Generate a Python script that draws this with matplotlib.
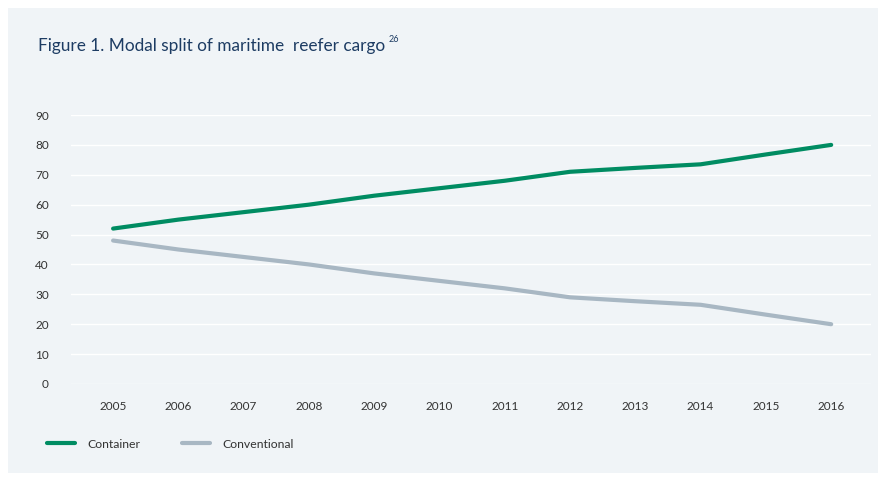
import matplotlib.pyplot as plt
from matplotlib.patches import Rectangle

years = [2005, 2006, 2007, 2008, 2009, 2010, 2011, 2012, 2013, 2014, 2015, 2016]
container = [52, 55, 57.5, 60, 63, 65.5, 68, 71, 72.3, 73.5, 76.8, 80]
conventional = [48, 45, 42.5, 40, 37, 34.5, 32, 29, 27.7, 26.5, 23.2, 20]
yticks = [0, 10, 20, 30, 40, 50, 60, 70, 80, 90]

green = "#008c62"
grey = "#a8b7c3"
panel = "#f0f4f7"
navy = "#1d3c63"
txt = "#333333"

plt.rcParams['font.family'] = ['Lato', 'DejaVu Sans']

W, H = 879, 482
fig = plt.figure(figsize=(W / 100, H / 100), dpi=100)
fig.patch.set_facecolor("white")
fig.patches.append(Rectangle((8 / W, 9 / H), 1 - 8 / W, 1 - 17 / H,
                             transform=fig.transFigure, facecolor=panel,
                             edgecolor="none", zorder=-10))

ax = fig.add_axes([71 / W, 1 - 384 / H, 800 / W, 269 / H])
ax.set_facecolor("none")
ax.plot(years, container, color=green, lw=3.0, solid_capstyle="round",
        solid_joinstyle="round", label="Container")
ax.plot(years, conventional, color=grey, lw=3.0, solid_capstyle="round",
        solid_joinstyle="round", label="Conventional")

ax.set_xlim(2005 - 0.645, 2016 + 0.61)
ax.set_ylim(0, 90)
ax.set_xticks(years)
ax.set_yticks(yticks)
ax.tick_params(length=0, labelsize=8.5, labelcolor=txt)
ax.tick_params(axis="y", pad=16)
ax.tick_params(axis="x", pad=12)
ax.grid(axis="y", color="white", lw=1.0)
ax.set_axisbelow(True)
for s in ax.spines.values():
    s.set_visible(False)

title = fig.text(38 / W, 1 - 46 / H, "Figure 1. Modal split of maritime  reefer cargo",
                 fontsize=12.4, color=navy, va="center", ha="left")
fig.canvas.draw()
ext = title.get_window_extent()
fig.text((ext.x1 + 3) / W, 1 - 40 / H, "26", fontsize=6.5, color=navy,
         va="center", ha="left")

fig.legend(loc="center left", bbox_to_anchor=(36 / W, 1 - 444 / H), ncol=2,
           frameon=False, fontsize=8.8, handlelength=2.3, handletextpad=1.0,
           columnspacing=3.4, labelcolor=txt)

fig.savefig("out.png", dpi=100, facecolor="white")
